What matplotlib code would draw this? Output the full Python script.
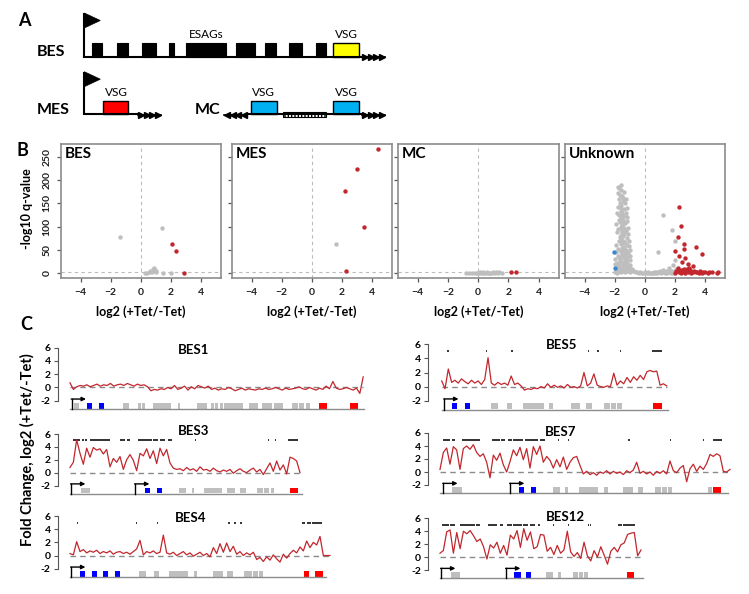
import matplotlib
matplotlib.use('Agg')
import matplotlib.pyplot as plt
import numpy as np
from matplotlib.patches import Rectangle, Polygon

plt.rcParams['font.family'] = ['Lato', 'DejaVu Sans']

# ---------------- panel B : volcano points (log2 FC, -log10 q) ----------------
bes_gray = [(-1.4, 78), (1.45, 97), (0.3, 1), (0.45, 1), (0.6, 2), (0.75, 3), (0.8, 6),
            (0.85, 10), (0.9, 12), (0.95, 8), (1.05, 5), (1.0, 2), (1.5, 1), (2.0, 1), (0.65, 4)]
bes_red = [(2.07, 63), (2.33, 48), (2.9, 1)]

mes_gray = [(1.6, 63)]
mes_red = [(4.4, 266), (3.0, 223), (2.2, 176), (3.5, 100), (2.27, 6)]

mc_gray = [(-0.8, 1), (-0.6, 0.5), (-0.4, 1), (-0.2, 0.5), (0.0, 1), (0.1, 2), (0.2, 0.5),
           (0.3, 1.5), (0.4, 0.5), (0.5, 1), (0.6, 2), (0.7, 0.5), (0.8, 1), (0.9, 1.5),
           (1.0, 2.5), (1.1, 1), (1.2, 3), (1.3, 1.5), (1.4, 2), (1.55, 1), (0.05, 0.3),
           (-0.1, 1.5), (0.35, 2.5), (0.65, 1)]
mc_red = [(2.15, 2), (2.5, 2)]

unk_gray = [(-1.75, 185), (-1.6, 178), (-1.8, 172), (-1.5, 166), (-1.7, 160), (-1.45, 155),
            (-1.65, 150), (-1.55, 146), (-1.8, 141), (-1.4, 138), (-1.6, 133), (-1.5, 129),
            (-1.7, 125), (-1.35, 122), (-1.55, 118), (-1.45, 114), (-1.65, 110), (-1.3, 107),
            (-1.5, 104), (-1.6, 100), (-1.4, 97), (-1.75, 94), (-1.25, 91), (-1.5, 88),
            (-1.35, 85), (-1.6, 82), (-1.45, 79), (-1.2, 76), (-1.55, 73), (-1.7, 70),
            (-1.3, 68), (-1.45, 65), (-1.6, 62), (-1.15, 60), (-1.35, 57), (-1.5, 55),
            (-1.75, 52), (-1.25, 50), (-1.4, 47), (-1.6, 45), (-1.1, 43), (-1.3, 41),
            (-1.5, 39), (-1.8, 37), (-1.2, 35), (-1.4, 33), (-1.65, 31), (-1.0, 29),
            (-1.3, 27), (-1.55, 25), (-1.85, 23), (-1.15, 22), (-1.4, 20), (-1.7, 18),
            (-0.95, 17), (-1.25, 15), (-1.5, 14), (-1.8, 12), (-1.05, 11), (-1.35, 10),
            (-1.6, 9), (-1.9, 8), (-0.9, 7), (-1.2, 6), (-1.45, 5), (-1.7, 4), (-0.8, 4),
            (-1.0, 3), (-1.3, 2), (-1.55, 2), (-0.6, 2), (-0.4, 1), (-0.2, 1), (-1.85, 1),
            (-2.0, 2), (0.1, 1), (0.3, 0.5), (0.5, 1.5), (0.7, 0.5), (0.9, 2), (1.1, 1),
            (1.3, 3), (1.5, 1), (1.7, 2.5), (1.9, 1), (0.2, 2.5), (0.6, 3), (1.0, 4),
            (1.4, 5), (1.8, 6), (0.4, 0.3), (0.8, 1), (1.2, 2), (1.6, 4), (2.0, 3),
            (-0.1, 0.5), (-0.3, 2), (1.25, 126), (1.82, 93), (2.0, 70), (0.9, 45),
            (2.0, 28), (1.9, 18), (1.6, 12), (1.2, 8), (2.1, 10),
            (-1.9, 60), (-1.85, 88), (-1.2, 120), (-1.1, 98), (-1.05, 70), (-1.95, 30),
            (-2.0, 20), (-1.0, 50), (-0.95, 38), (-1.15, 140), (-1.25, 160), (-1.35, 175),
            (-1.9, 105), (-1.85, 130), (-1.25, 130), (-1.3, 150), (-1.2, 112), (-1.1, 84),
            (-1.05, 58), (-1.9, 45), (-1.7, 35), (-1.55, 48), (-1.35, 36), (-1.25, 28),
            (-1.45, 22), (-1.65, 26), (-1.75, 15), (-1.15, 12), (-1.5, 8), (-1.25, 4),
            (-1.75, 6), (-0.85, 10), (-0.7, 5), (-0.5, 3), (-1.45, 70), (-1.65, 78),
            (-1.35, 92), (-1.55, 96), (-1.4, 108), (-1.7, 115), (-1.5, 122), (-1.6, 140),
            (-1.45, 162), (-1.65, 168), (-1.55, 190), (-1.7, 182), (0.0, 2), (0.25, 1.5),
            (0.55, 0.5), (0.75, 2), (1.05, 2.5), (1.35, 1), (1.55, 3), (1.75, 1), (1.95, 2)]
unk_blue = [(-2.05, 45), (-2.0, 12)]
unk_red = [(2.3, 143), (2.45, 102), (2.2, 78), (2.6, 63), (3.45, 57), (2.05, 48), (2.3, 37),
           (3.8, 41), (2.65, 52), (2.7, 32), (2.5, 24), (2.9, 20), (3.2, 15), (2.2, 12),
           (2.4, 8), (2.6, 10), (2.8, 6), (3.0, 8), (3.3, 5), (3.5, 3), (3.7, 6), (2.1, 4),
           (2.3, 2), (2.5, 5), (2.7, 1), (2.9, 3), (3.1, 1), (3.4, 2), (3.8, 1), (4.0, 2),
           (4.2, 1), (4.5, 2), (4.8, 1), (4.9, 2), (2.2, 6), (2.6, 3), (3.0, 4), (3.6, 1),
           (2.4, 1), (2.8, 9), (3.2, 2), (3.9, 3), (4.3, 2), (2.05, 1), (2.55, 7), (2.95, 11)]

# ---------------- panel C : fold change traces (log2), lengths in kb ----------------
bes1_len = 73.3
bes1_fc = [0.7, -0.3, 0.1, 0.3, 0.2, 0.4, 0.1, 0.3, 0.5, 0.2, 0.4, 0.3, 0.6, 0.2, 0.4, 0.5,
           0.3, 0.6, 0.4, 0.2, 0.5, 0.3, 0.4, 0.1,
           -0.5, -0.3, -0.4, -0.2, -0.3, 0.0, -0.2, 0.3, -0.3, -0.1, 0.2, -0.4, 0.1, -0.2,
           0.3, 0.1, -0.1, 0.2, -0.3, -0.1, -0.4, -0.2, -0.3, 0.0, -0.2, -0.5, -0.3, -0.1,
           -0.4, -0.2,
           -0.3, -0.4, -0.2, -0.3, -0.1, -0.3, -0.2, 0.0, -0.2, -0.4, -0.1, -0.3, -0.2,
           -0.1, 0.1, -0.2, -0.3, 0.0, -0.2, -0.4, -0.1, -0.3, 0.2, -0.2, 0.9, -0.1, -0.3,
           -0.2, 0.0, -0.2, -0.4, -0.1, -0.9, 1.6]
bes1_marks = []
bes1_gray = [(1.0, 2.3), (13.2, 14.8), (17.1, 17.8), (18.0, 18.8), (20.7, 25.3), (26.9, 27.6),
             (31.7, 34.2), (35.3, 36.0), (36.3, 37.1), (37.4, 38.2), (38.5, 43.3), (44.8, 47.1),
             (47.9, 50.4), (51.0, 53.3), (55.6, 57.0), (57.3, 58.6), (58.9, 60.0)]
bes1_blue = [(4.3, 5.4), (7.3, 8.6)]
bes1_red = [(62.3, 64.2), (70.1, 71.9)]
bes1_prom = [0.4]
bes1_end = 73.5

bes3_len = 57.5
bes3_fc = [0.8, 1.6, 5.1, 3.0, 1.3, 3.8, 2.4, 3.9, 3.5, 3.7, 2.9, 3.6, 0.9, 2.2, 1.6, 2.5,
           0.5, 2.0, 2.8, 1.9, 0.3, 3.0, 2.6, 3.7, 2.2, 3.4, 1.4, 3.8, 2.6, 3.6, 1.5, 0.7,
           0.5, 0.6, 0.3, 0.8, 0.4, 0.6, 0.2, 0.9, 0.4, 0.5, 0.2, 0.7, 0.3, 0.1, 0.4, 0.2,
           0.5, -0.1, 0.3, 0.6, 0.2, 0.0, 0.4, 0.7, 0.1, 0.5, -0.3, 0.6, 1.5, 0.2, 1.8, 0.4,
           1.2, -0.2, 2.4, 2.2, 1.8, 0.0]
bes3_marks = [(0.75, 2.5), (3.0, 3.5), (3.8, 4.2), (5.0, 10.0), (12.5, 13.8), (14.2, 15.0),
              (17.0, 20.5), (20.8, 22.0), (22.5, 23.8), (24.5, 25.5), (31.2, 31.5),
              (49.5, 49.8), (51.2, 51.5), (54.5, 57.0)]
bes3_gray = [(2.75, 5.0), (27.25, 29.0), (30.5, 31.0), (33.5, 38.0), (39.25, 41.25), (42.5, 44.0),
             (46.75, 48.25), (48.5, 49.75), (50.25, 51.0)]
bes3_blue = [(18.75, 20.0), (21.75, 23.0)]
bes3_red = [(55.0, 57.0)]
bes3_prom = [0.25, 16.25]
bes3_end = 58.0

bes4_len = 65.0
bes4_fc = [0.3, 0.1, 2.1, 0.6, 0.9, 0.4, 0.7, 0.5, 0.8, 0.3, 0.6, 0.4, 0.7, 0.2, 0.5, 0.6,
           0.3, 0.5, 0.2, 0.6, 1.0, 2.3, 0.1, 0.6, 0.4, 0.7, 0.3, 0.5, 3.1, 0.4, 0.2, 0.5,
           0.0, 0.3, 0.6, 0.1, 0.4, -0.1, 0.2, 0.5, 0.0, 0.3, -0.2, 1.2, 0.3, 1.8, 0.5, 1.9,
           0.6, 1.4, 0.2, 0.6, 0.0, 0.4, 0.1, 0.5, -0.6, -0.3, -0.9, -0.2, -0.7, 0.1, -0.5,
           -1.0, 0.2, -0.4, 0.3, 0.8, 0.4, 1.3, 0.7, 2.2, 1.2, 2.0, 1.6, 2.9, 0.0, 0.0, 0.0]
bes4_marks = [(1.8, 2.1), (16.4, 16.7), (21.8, 22.1), (39.6, 39.9), (41.1, 41.4), (42.6, 42.9),
              (57.9, 58.75), (59.3, 60.3), (60.6, 62.9)]
bes4_gray = [(17.25, 19.0), (21.1, 22.3), (24.8, 29.6), (31.0, 31.8), (35.8, 38.2), (39.3, 40.7),
             (43.5, 45.5), (45.75, 47.0), (47.25, 48.3)]
bes4_blue = [(2.5, 3.75), (5.4, 6.7), (8.3, 9.6), (11.25, 12.5)]
bes4_red = [(58.6, 59.8), (61.25, 63.2)]
bes4_prom = [0.25]
bes4_end = 64.0

bes5_len = 56.25
bes5_fc = [0.8, -0.3, 2.5, 0.6, 0.9, 0.5, 1.1, 0.7, 0.4, 0.9, 0.5, 0.8, 0.3, 1.0, 4.1, 0.5,
           0.2, 0.6, 0.3, 0.5, 0.2, 1.5, 0.3, 0.5, 0.1, -0.5, -0.3, -0.4, -0.2, -0.3, 0.0,
           -0.2, 0.4, -0.1, 0.2, -0.1, 0.1, -0.2, 0.3, -0.1, 0.0, -0.2, 0.1, 2.0, 0.1, 0.5,
           1.8, 0.2, 0.0, -0.1, 0.1, 0.0, 1.9, 0.2, 0.8, 0.4, 1.3, 0.6, 1.4, 0.9, 1.6, 1.0,
           2.1, 2.3, 2.1, 2.2, 0.2, 0.4, 0.1]
bes5_marks = [(1.4, 1.7), (11.1, 11.4), (17.4, 17.7), (36.5, 36.8), (38.9, 39.2), (44.5, 44.8),
              (52.5, 55.0)]
bes5_gray = [(12.25, 14.15), (16.25, 17.65), (20.4, 25.6), (26.9, 27.9), (32.25, 34.6),
             (36.0, 37.5), (40.6, 42.1), (42.3, 43.6), (43.8, 45.15)]
bes5_blue = [(2.65, 3.9), (5.8, 7.1)]
bes5_red = [(52.9, 55.15)]
bes5_prom = [0.6]
bes5_end = 56.6

bes7_len = 72.5
bes7_fc = [0.4, 3.0, 3.7, 1.2, 3.9, 3.4, 0.4, 3.6, 4.0, 3.5, 4.2, 3.0, 2.4, 2.8, 1.5, -0.9,
           2.6, 1.8, 2.9, 1.1, 0.0, 1.6, 3.4, 2.5, 3.8, 1.9, 3.6, 0.6, 3.9, 2.7, 4.0, 1.5,
           2.4, 1.8, 0.6, 1.9, 0.8, 2.3, 0.4, 1.5, 2.2, 2.4, 1.0, -0.3, 0.1, -0.4, -0.1,
           -0.5, 0.0, -0.2, 0.2, -0.3, 0.1, -0.2, 0.0, -0.4, 0.2, -0.1, 0.3, 1.5, -0.2, 0.1,
           -0.3, 0.0, -0.5, 0.1, -0.2, 0.2, -0.3, 1.7, 0.2, -0.1, 0.6, 1.0, -1.5, 0.5, 1.2,
           0.1, 0.9, 0.4, 1.3, 2.7, 2.4, 2.8, 2.5, 0.1, 0.0, 0.4]
bes7_marks = [(0.8, 2.5), (2.9, 3.75), (5.4, 10.0), (12.9, 15.0), (15.25, 16.25), (17.1, 17.9),
              (18.3, 20.8), (21.25, 24.6), (25.0, 26.25), (29.5, 29.8), (32.0, 32.3),
              (47.1, 47.4), (57.4, 57.7), (65.7, 66.0), (68.3, 70.4)]
bes7_gray = [(3.1, 5.6), (28.3, 30.0), (31.25, 32.1), (34.75, 39.6), (41.0, 41.9), (45.8, 48.3),
             (49.6, 50.8), (53.75, 55.25), (55.5, 56.75), (57.0, 58.1), (67.1, 68.1)]
bes7_blue = [(19.75, 21.1), (22.7, 24.0)]
bes7_red = [(68.3, 70.25)]
bes7_prom = [0.8, 17.5]
bes7_end = 72.0

bes12_len = 50.25
bes12_fc = [0.6, 1.0, 3.9, 4.2, 0.6, 3.8, 1.3, 4.0, 3.6, 4.1, 3.3, 2.4, 2.8, 1.6, -0.3, 1.9,
            1.4, 2.3, 0.6, 1.8, 0.3, 3.4, 2.8, 4.1, 1.5, 4.4, 2.6, 3.9, 1.3, 1.6, 3.5, 3.4,
            0.9, 1.5, 0.4, 1.8, 0.6, 1.1, 4.0, 0.8, 0.1, 0.7, -0.2, 2.3, 0.2, -0.6, 1.0,
            0.0, 1.6, 0.3, -1.1, 0.9, 1.5, 0.8, 1.9, 2.2, 3.5, 3.7, 3.8, 0.2, 1.1]
bes12_marks = [(0.6, 2.25), (2.5, 3.75), (5.0, 8.75), (8.9, 10.0), (12.1, 14.2), (15.0, 15.8),
               (16.7, 17.9), (18.3, 20.4), (20.8, 22.1), (22.5, 23.75), (24.6, 25.0),
               (28.2, 28.5), (32.0, 32.3), (37.0, 37.3), (37.5, 37.8), (44.6, 45.4),
               (45.8, 48.75)]
bes12_gray = [(2.75, 5.0), (26.5, 28.2), (29.6, 30.25), (33.2, 34.4), (34.7, 35.8), (36.1, 37.1)]
bes12_blue = [(18.6, 20.2), (21.4, 22.7)]
bes12_red = [(46.8, 48.6)]
bes12_prom = [0.25, 16.5]
bes12_end = 50.75

# ---------------- panel A : schematic gene boxes (pixel units) ----------------
esag_boxes = [(91.7, 102.3), (116.7, 128.3), (141.7, 156), (169, 174), (186, 226),
              (235.7, 255), (265, 276), (288.7, 302.3), (315.7, 325.7)]

W, H = 749, 594
fig = plt.figure(figsize=(W / 100, H / 100), dpi=100)


def add_px_axes(x0, y0, x1, y1, **kw):
    return fig.add_axes([x0 / W, 1 - y1 / H, (x1 - x0) / W, (y1 - y0) / H], **kw)


# ---- B: volcano plots
volcanos = [('BES', bes_gray, bes_red, []), ('MES', mes_gray, mes_red, []),
            ('MC', mc_gray, mc_red, []), ('Unknown', unk_gray, unk_red, unk_blue)]
panel_x = [(61, 221), (232, 392), (398, 559), (565, 725)]
for i, ((name, gray, red, blue), (px0, px1)) in enumerate(zip(volcanos, panel_x)):
    ax = add_px_axes(px0, 144, px1, 278)
    ax.set_xlim(-5.3, 5.35)
    ax.set_ylim(-10, 277)
    ax.axvline(0, color='#bbbbbb', ls=(0, (3, 3)), lw=0.8, zorder=1)
    ax.axhline(2, color='#bbbbbb', ls=(0, (3, 3)), lw=0.8, zorder=1)
    for pts, c in ((gray, '#bebebe'), (red, '#c1272d'), (blue, '#3b86d0')):
        if pts:
            xs, ys = zip(*pts)
            ax.scatter(xs, ys, s=10, c=c, linewidths=0, zorder=3)
    ax.set_xticks([-4, -2, 0, 2, 4])
    ax.set_yticks([0, 50, 100, 150, 200, 250])
    for sp in ax.spines.values():
        sp.set_color('#8c8c8c')
        sp.set_linewidth(1.2)
    ax.tick_params(color='#555555', labelcolor='#222222', length=3, width=0.9,
                   labelsize=7.5, pad=4)
    for t in ax.get_xticklabels():
        t.set_fontweight('bold')
    if i == 0:
        ax.set_yticklabels([str(v) for v in [0, 50, 100, 150, 200, 250]],
                           rotation=90, va='center', fontweight='bold')
    else:
        ax.set_yticklabels([])
    ax.set_xlabel('log2 (+Tet/-Tet)', fontsize=9, fontweight='bold', labelpad=6)
    ax.text(0.025, 0.975, name, transform=ax.transAxes, ha='left', va='top',
            fontsize=11, fontweight='bold')

# ---- C: fold change tracks
PX_PER_KB = 4.0
tracks = [
    ('BES1', 57.7, 70.0, 347.7, 400.7, bes1_len, bes1_fc, bes1_marks, bes1_gray, bes1_blue,
     bes1_red, bes1_prom, bes1_end, (194, 350)),
    ('BES3', 57.7, 70.0, 434.0, 485.5, bes3_len, bes3_fc, bes3_marks, bes3_gray, bes3_blue,
     bes3_red, bes3_prom, bes3_end, (194, 431)),
    ('BES4', 57.7, 70.0, 516.0, 568.7, bes4_len, bes4_fc, bes4_marks, bes4_gray, bes4_blue,
     bes4_red, bes4_prom, bes4_end, (191, 518)),
    ('BES5', 428.0, 441.7, 344.3, 400.7, bes5_len, bes5_fc, bes5_marks, bes5_gray, bes5_blue,
     bes5_red, bes5_prom, bes5_end, (562, 345)),
    ('BES7', 428.0, 440.0, 433.0, 485.0, bes7_len, bes7_fc, bes7_marks, bes7_gray, bes7_blue,
     bes7_red, bes7_prom, bes7_end, (561, 432)),
    ('BES12', 428.0, 440.0, 518.3, 570.0, bes12_len, bes12_fc, bes12_marks, bes12_gray,
     bes12_blue, bes12_red, bes12_prom, bes12_end, (565, 517)),
]

titles = []
for (name, spine_x, x0, y6, ym2, L, fc, marks, gray, blue, red, prom, line_end,
     title_xy) in tracks:
    ppu = (ym2 - y6) / 8.0
    top_v, bot_v = 6.4, -3.6
    right_px = x0 + (max(L, line_end) + 1.0) * PX_PER_KB
    ax = add_px_axes(spine_x, y6 - (top_v - 6) * ppu, right_px, ym2 + (-2 - bot_v) * ppu)
    ax.patch.set_visible(False)
    ax.set_xlim((spine_x - x0) / PX_PER_KB, (right_px - x0) / PX_PER_KB)
    ax.set_ylim(bot_v, top_v)
    pos = np.linspace(0, L, len(fc))
    ax.plot([0, L], [0, 0], color='#8a8a8a', ls=(0, (4, 3)), lw=1.0, zorder=1)
    ax.plot(pos, fc, color='#c1272d', lw=0.9, zorder=3)
    for a, b in marks:
        ax.plot([a, b], [5, 5], color='#222222', lw=1.3, solid_capstyle='butt')
    # gene track
    ax.plot([0, line_end], [-3.25, -3.25], color='#8c8c8c', lw=1.0)
    for boxes, c in ((gray, '#bfbfbf'), (blue, '#0000ff'), (red, '#ff0000')):
        for a, b in boxes:
            ax.add_patch(Rectangle((a, -3.2), b - a, 0.85, facecolor=c, edgecolor='none'))
    for p in prom:
        ax.plot([p, p], [-3.25, -1.75], color='black', lw=1.0)
        ax.annotate('', xy=(p + 3.6, -1.75), xytext=(p - 0.1, -1.75),
                    arrowprops=dict(arrowstyle='-|>', color='black', lw=1.0,
                                    mutation_scale=6, shrinkA=0, shrinkB=0))
    for s in ('top', 'right', 'bottom'):
        ax.spines[s].set_visible(False)
    ax.spines['left'].set_bounds(-2, 6)
    ax.spines['left'].set_color('#555555')
    ax.spines['left'].set_linewidth(0.8)
    ax.set_xticks([])
    ax.set_yticks([-2, 0, 2, 4, 6])
    ax.set_yticklabels(['-2', '0', '2', '4', '6'], fontweight='bold')
    ax.tick_params(axis='y', length=3, width=0.8, color='#555555', labelsize=7.5, pad=2)
    titles.append((name, title_xy))

# ---- canvas overlay for panel A and loose text
cv = fig.add_axes([0, 0, 1, 1], zorder=10)
cv.set_xlim(0, W)
cv.set_ylim(H, 0)
cv.axis('off')
cv.patch.set_visible(False)

for letter, (lx, ly) in (('A', (18, 21)), ('B', (17, 150)), ('C', (20, 324))):
    cv.text(lx, ly, letter, fontsize=13, fontweight='bold', va='center', ha='left')

for name, (tx, ty) in titles:
    cv.text(tx, ty, name, fontsize=9.5, fontweight='bold', ha='center', va='center')

cv.text(27, 209, '-log10 q-value', rotation=90, fontsize=9, fontweight='bold',
        ha='center', va='center')
cv.text(27, 450, 'Fold Change, log2 (+Tet/-Tet)', rotation=90, fontsize=10.5,
        fontweight='bold', ha='center', va='center')


def flag(x, ytop, ybase):
    cv.plot([x, x], [ytop, ybase], color='black', lw=1.5, solid_capstyle='butt')
    cv.add_patch(Polygon([(x, ytop), (x + 16, ytop + 7.5), (x, ytop + 15)], closed=True,
                         facecolor='black', edgecolor='black', lw=0.5))


def arrows(x_start, y, direction):
    xs = [x_start + direction * (3 + 5.6 * k) for k in range(4)]
    cv.plot([min(xs) - 3, max(xs) + 3], [y, y], color='black', lw=1.2)
    cv.plot(xs, [y] * 4, ls='', marker='>' if direction > 0 else '<', ms=4.5,
            color='black', mec='black')


# BES row
cv.text(37, 52, 'BES', fontsize=11.5, fontweight='bold', va='center', ha='left')
flag(84.3, 13, 57)
cv.plot([84.3, 362], [56.7, 56.7], color='black', lw=1.5)
for a, b in esag_boxes:
    cv.add_patch(Rectangle((a, 43.3), b - a, 13.4, facecolor='black', edgecolor='black', lw=0.8))
cv.add_patch(Rectangle((333.3, 43.3), 25.7, 13.4, facecolor='#ffff00', edgecolor='black', lw=1.0))
arrows(362, 57, 1)
cv.text(206, 35, 'ESAGs', fontsize=8.5, ha='center', va='center')
cv.text(346, 35, 'VSG', fontsize=8.5, ha='center', va='center')

# MES row
cv.text(37, 110, 'MES', fontsize=11.5, fontweight='bold', va='center', ha='left')
flag(84.3, 71.7, 114.5)
cv.plot([84.3, 138], [114.3, 114.3], color='black', lw=1.5)
cv.add_patch(Rectangle((102.7, 101), 25.6, 13.3, facecolor='#ff0000', edgecolor='black', lw=1.0))
arrows(138, 114.5, 1)
cv.text(116, 93, 'VSG', fontsize=8.5, ha='center', va='center')

# MC row
cv.text(195, 110, 'MC', fontsize=11.5, fontweight='bold', va='center', ha='left')
arrows(247, 114.5, -1)
cv.plot([247, 362], [114.3, 114.3], color='black', lw=1.5)
for bx in (250.7, 333.3):
    cv.add_patch(Rectangle((bx, 101), 26, 13.3, facecolor='#00b0f0', edgecolor='black', lw=1.0))
    cv.text(bx + 13, 93, 'VSG', fontsize=8.5, ha='center', va='center')
cv.add_patch(Rectangle((282.7, 111.7), 43.3, 5, facecolor='white', edgecolor='black',
                       lw=0.8, hatch='|||||'))
arrows(362, 114.5, 1)

fig.savefig('out.png', dpi=100)
